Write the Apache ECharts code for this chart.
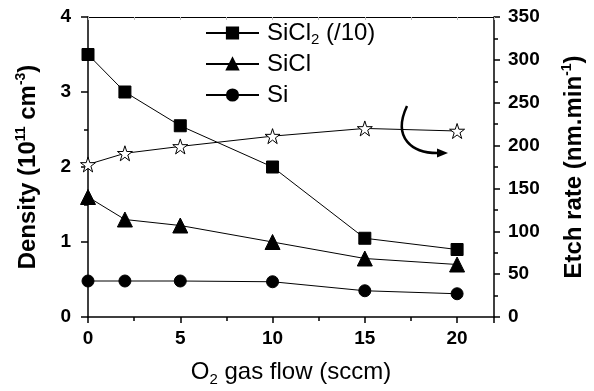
<!DOCTYPE html>
<html>
<head>
<meta charset="utf-8">
<script src="https://cdn.jsdelivr.net/npm/echarts@6/dist/echarts.min.js"></script>
<style>
  html, body { margin: 0; padding: 0; background: #fff; }
  #chart { width: 594px; height: 391px; }
</style>
</head>
<body>
<div id="chart"></div>
<script>
const flow = [0, 2, 5, 10, 15, 20];
const sicl2 = [3.5, 3.0, 2.55, 2.0, 1.05, 0.9];
const sicl = [1.6, 1.3, 1.22, 1.0, 0.78, 0.7];
const si = [0.48, 0.48, 0.48, 0.47, 0.35, 0.31];
const etchRate = [178, 191, 199, 211, 220, 217];
const densityTicks = [0, 1, 2, 3, 4];
const etchTicks = [0, 50, 100, 150, 200, 250, 300, 350];

const FONT = 'Liberation Sans, Arial, sans-serif';
const STAR = 'path://M50,0 L61.8,35.4 L99,35.4 L68.9,57.3 L80.4,92.7 L50,70.8 L19.6,92.7 L31.1,57.3 L1,35.4 L38.2,35.4 Z';

const pairs = ys => flow.map((x, i) => [x, ys[i]]);

const chart = echarts.init(document.getElementById('chart'), null, { renderer: 'canvas' });

const lineSeries = (name, data, symbol, size, yIndex) => ({
  name,
  type: 'line',
  yAxisIndex: yIndex,
  data: pairs(data),
  symbol,
  symbolSize: size,
  showAllSymbol: true,
  lineStyle: { color: '#000', width: 1 },
  itemStyle: { color: '#000', borderColor: '#000', borderWidth: 1 },
  emphasis: { disabled: true },
  z: 3,
});

const starSeries = lineSeries('Etch rate', etchRate, STAR, 15, 1);
starSeries.itemStyle = { color: '#fff', borderColor: '#000', borderWidth: 1 };

const tickLabel = { fontFamily: FONT, fontWeight: 'bold', fontSize: 19, color: '#000' };
const nameRich = {
  b: { fontFamily: FONT, fontWeight: 'bold', fontSize: 24, color: '#000', lineHeight: 28 },
  s: { fontFamily: FONT, fontWeight: 'bold', fontSize: 14, color: '#000', verticalAlign: 'top', lineHeight: 28, padding: [0, 0, 10, 0] },
};

chart.setOption({
  animation: false,
  backgroundColor: '#fff',
  grid: { left: 88, right: 100, top: 17, bottom: 74, outerBoundsMode: 'none', containLabel: false },
  legend: {
    orient: 'vertical',
    left: 205,
    top: 19,
    padding: 0,
    itemWidth: 53,
    itemHeight: 14,
    itemGap: 3,
    data: ['SiCl2', 'SiCl', 'Si'],
    formatter: name => name === 'SiCl2' ? 'SiCl{sub|2} (/10)' : name,
    textStyle: {
      fontFamily: FONT, fontSize: 24, color: '#000', lineHeight: 28, padding: [0, 0, 0, 3],
      rich: { sub: { fontFamily: FONT, fontSize: 15, lineHeight: 28, verticalAlign: 'bottom', padding: [12, 0, 0, 0] } },
    },
  },
  xAxis: [{
    type: 'value',
    min: 0,
    max: 22,
    interval: 5,
    name: 'O{sub|2} gas flow (sccm)',
    nameLocation: 'middle',
    nameGap: 41,
    nameTextStyle: {
      fontFamily: FONT, fontSize: 24, color: '#000',
      rich: { sub: { fontFamily: FONT, fontSize: 15, verticalAlign: 'bottom', padding: [14, 0, 0, 0] } },
    },
    axisLine: { onZero: false, lineStyle: { color: '#000', width: 1.5 } },
    axisTick: { length: 6, lineStyle: { color: '#000', width: 1.5 } },
    minorTick: { show: true, splitNumber: 2, length: 4, lineStyle: { color: '#000', width: 1.5 } },
    axisLabel: Object.assign({ margin: 12, showMaxLabel: false }, tickLabel),
    splitLine: { show: false },
  }, {
    type: 'value',
    position: 'top',
    min: 0,
    max: 22,
    interval: 2.5,
    axisLine: { onZero: false, lineStyle: { color: '#000', width: 1 } },
    axisTick: { inside: true, length: 3, lineStyle: { color: '#bbb' } },
    axisLabel: { show: false },
    splitLine: { show: false },
  }],
  yAxis: [{
    type: 'value',
    min: densityTicks[0],
    max: densityTicks[densityTicks.length - 1],
    interval: 1,
    name: '{b|Density (10}{s|11}{b| cm}{s|-3}{b|)}',
    nameLocation: 'middle',
    nameGap: 46,
    nameRotate: 90,
    nameTextStyle: { rich: nameRich },
    axisLine: { show: true, onZero: false, lineStyle: { color: '#000', width: 1.5 } },
    axisTick: { length: 7, lineStyle: { color: '#000', width: 1.5 } },
    minorTick: { show: true, splitNumber: 2, length: 4, lineStyle: { color: '#000', width: 1.5 } },
    axisLabel: Object.assign({ margin: 17 }, tickLabel),
    splitLine: { show: false },
  }, {
    type: 'value',
    position: 'right',
    min: etchTicks[0],
    max: etchTicks[etchTicks.length - 1],
    interval: 50,
    name: '{b|Etch rate (nm.min}{s|-1}{b|)}',
    nameLocation: 'middle',
    nameGap: 66,
    nameRotate: 90,
    nameTextStyle: { rich: nameRich },
    axisLine: { show: true, onZero: false, lineStyle: { color: '#000', width: 1.5 } },
    axisTick: { length: 6, lineStyle: { color: '#000', width: 1.5 } },
    minorTick: { show: true, splitNumber: 2, length: 4, lineStyle: { color: '#000', width: 1.5 } },
    axisLabel: Object.assign({ margin: 14 }, tickLabel),
    splitLine: { show: false },
  }],
  series: [
    lineSeries('SiCl2', sicl2, 'rect', 12, 0),
    lineSeries('SiCl', sicl, 'triangle', 15, 0),
    lineSeries('Si', si, 'circle', 12, 0),
    starSeries,
  ],
  graphic: [{
    type: 'bezierCurve',
    shape: { x1: 407, y1: 106, cpx1: 392, cpy1: 138, cpx2: 412, cpy2: 154, x2: 440, y2: 153 },
    style: { stroke: '#000', lineWidth: 2.5, fill: null },
    z: 10,
  }, {
    type: 'polygon',
    shape: { points: [[448, 153], [437, 148.5], [437, 157.5]] },
    style: { fill: '#000' },
    z: 10,
  }],
});
</script>
</body>
</html>
